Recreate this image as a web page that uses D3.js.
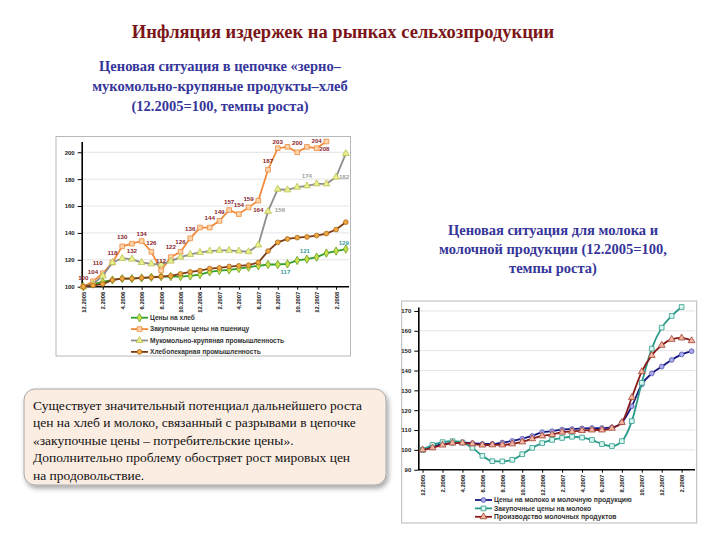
<!DOCTYPE html>
<html>
<head>
<meta charset="utf-8">
<script src="https://cdn.jsdelivr.net/npm/d3@7"></script>
<style>
  body { margin: 0; background: #fff; }
  svg { display: block; }
</style>
</head>
<body>
<div class="d3-container"></div>
<script>
// months 12.2005 .. 3.2008
const months = ["12.2005","1.2006","2.2006","3.2006","4.2006","5.2006","6.2006","7.2006",
  "8.2006","9.2006","10.2006","11.2006","12.2006","1.2007","2.2007","3.2007","4.2007",
  "5.2007","6.2007","7.2007","8.2007","9.2007","10.2007","11.2007","12.2007","1.2008",
  "2.2008","3.2008"];

// chart 1: grain - flour - bread
const breadPrices = [100,102,103.5,105,106,106,106.5,107,107.5,107.5,107.5,108,109,111,112,
  112.5,113.5,114.5,115.5,116.5,116.5,117,119.5,120.5,122,125,126.5,128];
const wheatPrices = [100,104,110,118,130,132,134,126,112,122,126,136,144,144,149,157,154,
  159,164,187,203,204,200,204,203,208];
const millingIndustry = [100,102,108,118,121,120.5,118,117,116.5,119,122,124,125.5,126.5,
  127,127,126.5,126,131,156,172.5,172,174,175,176.5,176.5,181.5,199];
const bakeryIndustry = [100,101,102,105,106,106,106.5,107,107.5,108,109.5,111,112,113.5,
  114,115,115.5,116,118,126.5,133,135.5,136.5,137,138,139.5,142.5,148];
const ticks1 = [100,120,140,160,180,200];

// chart 2: milk
const milkRetail = [100,101.5,103,103.5,103.7,103.3,103,103,103.7,104.5,105.6,107,108.9,
  109.4,110.2,110.5,110.8,111,111,111.3,113.8,122,133,138.5,142,145.3,148.1,149.7];
const rawMilk = [100,102.5,103.9,104.4,103.7,101,97,94.3,94.2,95,97.8,101,103.4,105,106,
  106.6,106.2,105,102.9,101.9,104.4,114.5,133.8,151,161.6,167.5,172];
const dairyProduction = [100,101,102.4,103.4,103.5,103,102.4,102.5,102.5,103,104,105.6,107,
  107.7,108.9,109.3,109.7,110,110,110.9,113.8,126.4,139.4,147.6,152.7,155.7,156.4,155];
const ticks2 = [90,100,110,120,130,140,150,160,170];

// labelled points: [index, dx, dy]
const wheatLabels = [[0,0,-9],[1,0,-9.5],[2,-5,-10.5],[3,0,-9.5],[4,0,-9.5],[5,0,7],[6,0,-7.5],
  [7,0,-9],[8,0,-9.5],[9,0,-10],[10,0,-9.5],[11,0,-9],[13,0,-9.3],[14,0,-9.2],[15,0,-8.5],
  [16,0,-9],[17,0,-9],[18,0,9.3],[19,0,-9],[20,0,-6.6],[22,0,-9.5],[24,0,-7],[25,-2,7.5]];
const wheatLabelText = ["100","104","110","118","130","132","134","126","112","122","126",
  "136","144","149","157","154","159","164","187","203","200","204","208"];
const millLabels = [[19,12,-2,"156"],[23,0,-10,"174"],[26,8,0,"182"]];
const breadLabels = [[21,-2,8,"117"],[23,-2,-8,"121"],[27,-2,-6,"129"]];

const width = 720;
const height = 540;

const serif = '"Liberation Serif", "Times New Roman", serif';
const sans = '"Liberation Sans", Arial, sans-serif';

const svg = d3.select(".d3-container")
  .append("svg")
  .attr("width", width)
  .attr("height", height)
  .attr("viewBox", [0, 0, width, height]);

// titles
svg.append("text")
  .style("font-family", serif)
  .attr("x", 343).attr("y", 38)
  .attr("text-anchor", "middle")
  .attr("font-weight", "bold").attr("font-size", 18.5)
  .attr("fill", "#7b1518")
  .text("Инфляция издержек на рынках сельхозпродукции");

function multiline(lines, cx, y0, lh) {
  svg.append("g")
    .style("font-family", serif)
    .attr("font-weight", "bold").attr("font-size", 14.5)
    .attr("fill", "#35359a").attr("text-anchor", "middle")
    .selectAll("text")
    .data(lines)
    .join("text")
    .attr("x", cx)
    .attr("y", (d, i) => y0 + i * lh)
    .text(d => d);
}
multiline(["Ценовая ситуация в цепочке «зерно–", "мукомольно-крупяные продукты–хлеб",
  "(12.2005=100, темпы роста)"], 220, 71, 20);
multiline(["Ценовая ситуация для молока и", "молочной продукции (12.2005=100,",
  "темпы роста)"], 553, 235, 19);

// marker shapes
const shapes = {
  diamond: d3.symbol(d3.symbolDiamond, 20),
  square: d3.symbol(d3.symbolSquare, 22),
  triangle: d3.symbol(d3.symbolTriangle, 20),
  circle: d3.symbol(d3.symbolCircle, 18)
};

function chart(cfg) {
  const g = svg.append("g");

  // frame
  g.append("rect")
    .attr("x", cfg.frame[0]).attr("y", cfg.frame[1])
    .attr("width", cfg.frame[2]).attr("height", cfg.frame[3])
    .attr("fill", "#fff").attr("stroke", "#b8b8b8").attr("stroke-width", 1);

  const x = d3.scaleLinear().domain([0, months.length - 1]).range(cfg.xRange);
  const y = d3.scaleLinear().domain(cfg.yDomain).range(cfg.yRange);

  // grid
  g.append("g")
    .selectAll("line")
    .data(cfg.ticks.slice(1))
    .join("line")
    .attr("x1", cfg.axisX).attr("x2", cfg.axisRight)
    .attr("y1", d => y(d)).attr("y2", d => y(d))
    .attr("stroke", "#e4e4e4").attr("stroke-width", 1);

  // y axis
  const ya = g.append("g")
    .attr("transform", `translate(${cfg.axisX},0)`)
    .call(d3.axisLeft(y).tickValues(cfg.ticks).tickSize(4).tickSizeOuter(0).tickPadding(3));
  ya.select(".domain").attr("stroke", "#000").attr("stroke-width", 1.6);
  ya.selectAll("text").style("font-family", sans).attr("font-size", 6).attr("font-weight", "bold")
    .attr("fill", "#222");

  // x axis
  const xa = g.append("g")
    .attr("transform", `translate(0,${y(cfg.yDomain[0])})`)
    .call(d3.axisBottom(x)
      .tickValues(d3.range(0, months.length, 2))
      .tickFormat(i => months[i])
      .tickSize(3).tickSizeOuter(0));
  xa.select(".domain").remove();
  xa.append("line")
    .attr("x1", cfg.axisX).attr("x2", cfg.axisRight)
    .attr("stroke", "#000").attr("stroke-width", 1.6);
  xa.selectAll(".tick text")
    .style("font-family", sans).attr("font-size", 5.8).attr("font-weight", "bold").attr("fill", "#222")
    .attr("transform", "rotate(-90)")
    .attr("text-anchor", "end")
    .attr("x", -5).attr("y", 0).attr("dy", "0.35em");

  // series
  cfg.series.forEach(s => {
    const line = d3.line()
      .x((d, i) => x(i))
      .y(d => y(d))
      .curve(cfg.curve);
    g.append("path")
      .datum(s.values)
      .attr("d", line)
      .attr("fill", "none")
      .attr("stroke", s.color)
      .attr("stroke-width", 1.8);
    g.append("g")
      .selectAll("path")
      .data(s.values)
      .join("path")
      .attr("d", shapes[s.marker])
      .attr("transform", (d, i) => `translate(${x(i)},${y(d)})`)
      .attr("fill", s.fill)
      .attr("stroke", s.mstroke)
      .attr("stroke-width", 0.8);
  });

  // legend
  const lg = g.append("g");
  cfg.series.forEach((s, k) => {
    const ly = cfg.legend.y + k * cfg.legend.step;
    lg.append("line")
      .attr("x1", cfg.legend.x).attr("x2", cfg.legend.x + 17)
      .attr("y1", ly).attr("y2", ly)
      .attr("stroke", s.color).attr("stroke-width", 1.8);
    lg.append("path")
      .attr("d", shapes[s.marker])
      .attr("transform", `translate(${cfg.legend.x + 8.5},${ly})`)
      .attr("fill", s.fill).attr("stroke", s.mstroke).attr("stroke-width", 0.8);
    lg.append("text")
      .style("font-family", sans)
      .attr("x", cfg.legend.x + 19).attr("y", ly).attr("dy", "0.35em")
      .attr("font-size", cfg.legend.size).attr("font-weight", "bold")
      .attr("fill", "#333")
      .text(s.name);
  });

  return {g, x, y};
}

// chart 1
const c1 = chart({
  frame: [56, 136.5, 294.5, 219.5],
  xRange: [83.3, 345.8],
  yDomain: [100, 208],
  yRange: [286.7, 141.5],
  ticks: ticks1,
  axisX: 81.7,
  axisRight: 349,
  curve: d3.curveLinear,
  legend: {x: 131, y: 317.7, step: 11.4, size: 6.6},
  series: [
    {name: "Цены на хлеб", values: breadPrices, color: "#2e9e2a", marker: "diamond",
      fill: "#c9e24a", mstroke: "#6a9a20"},
    {name: "Закупочные цены на пшеницу", values: wheatPrices, color: "#f08a3a", marker: "square",
      fill: "#fdd3aa", mstroke: "#ee8a3c"},
    {name: "Мукомольно-крупяная промышленность", values: millingIndustry, color: "#8e8e8e",
      marker: "triangle", fill: "#eaf08c", mstroke: "#b8c050"},
    {name: "Хлебопекарная промышленность", values: bakeryIndustry, color: "#7a3a12",
      marker: "circle", fill: "#eca844", mstroke: "#b06614"}
  ]
});

// data labels on chart 1
function labels(rows, series, color, textOf) {
  c1.g.append("g")
    .style("font-family", sans).attr("font-size", 6.2).attr("font-weight", "bold")
    .attr("text-anchor", "middle").attr("fill", color)
    .selectAll("text")
    .data(rows)
    .join("text")
    .attr("x", d => c1.x(d[0]) + d[1])
    .attr("y", d => c1.y(series[d[0]]) + d[2])
    .attr("dy", "0.35em")
    .text(textOf);
}
labels(wheatLabels, wheatPrices, "#8a1f2e", (d, i) => wheatLabelText[i]);
labels(millLabels, millingIndustry, "#a0a0a0", d => d[3]);
labels(breadLabels, breadPrices, "#3a9c9a", d => d[3]);

// chart 2
chart({
  frame: [401.7, 301, 295, 222],
  xRange: [422.6, 691.6],
  yDomain: [90, 172],
  yRange: [469.7, 307],
  ticks: ticks2,
  axisX: 418.3,
  axisRight: 695,
  curve: d3.curveMonotoneX,
  legend: {x: 475, y: 500, step: 8.4, size: 6.8},
  series: [
    {name: "Цены на молоко и молочную продукцию", values: milkRetail, color: "#16167e",
      marker: "circle", fill: "#a9a9f0", mstroke: "#5656a8"},
    {name: "Закупочные цены на молоко", values: rawMilk, color: "#2a9a8a", marker: "square",
      fill: "#dcf7f0", mstroke: "#2a9a8a"},
    {name: "Производство молочных продуктов", values: dairyProduction, color: "#8a1c1c",
      marker: "triangle", fill: "#f2b6a4", mstroke: "#a04030"}
  ]
});

// note box
const defs = svg.append("defs");
const f = defs.append("filter").attr("id", "shadow")
  .attr("x", "-10%").attr("y", "-10%").attr("width", "125%").attr("height", "130%");
f.append("feDropShadow").attr("dx", 2).attr("dy", 3).attr("stdDeviation", 2.5)
  .attr("flood-color", "#000").attr("flood-opacity", 0.35);

svg.append("rect")
  .attr("x", 24).attr("y", 389)
  .attr("width", 362).attr("height", 96)
  .attr("rx", 11)
  .attr("fill", "#fcede3")
  .attr("stroke", "#a8a8a8").attr("stroke-width", 1)
  .attr("filter", "url(#shadow)");

const noteLines = ["Существует значительный потенциал дальнейшего роста",
  "цен на хлеб и молоко, связанный с разрывами в цепочке",
  "«закупочные цены – потребительские цены».",
  "Дополнительно проблему обостряет рост мировых цен",
  "на продовольствие."];

svg.append("g")
  .style("font-family", serif).attr("font-size", 13.5).attr("fill", "#111")
  .selectAll("text")
  .data(noteLines)
  .join("text")
  .attr("x", 33)
  .attr("y", (d, i) => 410 + i * 17.4)
  .text(d => d);
</script>
</body>
</html>
